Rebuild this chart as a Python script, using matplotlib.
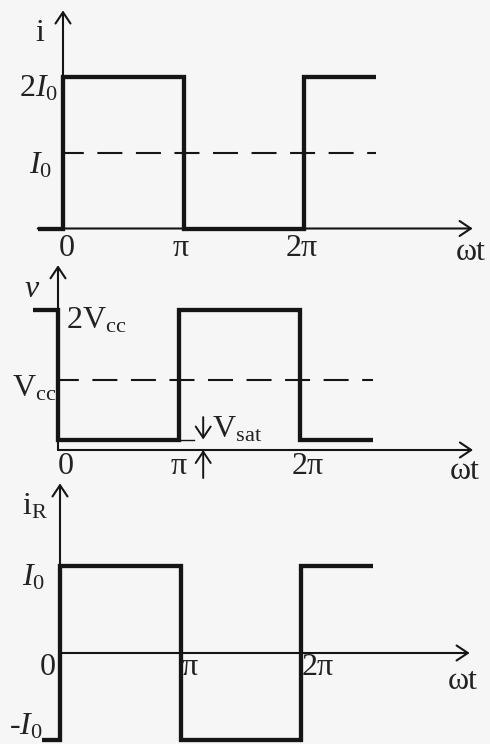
import numpy as np
import matplotlib.pyplot as plt

# ---------- DATA (time in units of pi, levels in units of I0 / Vcc) ----------

t_i = [-0.21, 0, 1, 2, 2.6]
i_levels = [0, 2, 0, 2]
i_mean = 1

V_sat = 0.15
t_v = [-0.21, 0, 1, 2, 2.6]
v_levels = [2, V_sat, 2, V_sat]
v_mean = 1

t_r = [-0.15, 0, 1, 2, 2.6]
r_levels = [-1, 1, -1, 1]

tick_pos = [0, 1, 2]
tick_text = ["0", "π", "2π"]

# ---------- STYLE ----------

W, H = 490, 744
INK = "#151515"
THICK = 3.1
THIN = 1.5
SERIF = "Liberation Serif"

plt.rcParams.update({
    "font.family": SERIF,
    "font.size": 23,
    "mathtext.fontset": "custom",
    "mathtext.rm": SERIF,
    "mathtext.it": SERIF + ":italic",
    "text.color": "#222222",
})

fig = plt.figure(figsize=(W / 100, H / 100), dpi=100)
fig.patch.set_facecolor("#f6f6f6")


def panel(top, bottom, x0, per_pi, y0, per_unit):
    """Axes spanning the full width; x in multiples of pi, y in level units."""
    ax = fig.add_axes([0, 1 - bottom / H, 1, (bottom - top) / H])
    ax.set_xlim(-x0 / per_pi, (W - x0) / per_pi)
    ax.set_ylim((y0 - bottom) / per_unit, (y0 - top) / per_unit)
    ax.axis("off")
    return ax


def step(ax, edges, levels):
    xs = np.repeat(edges, 2)[1:-1]
    ys = np.repeat(levels, 2)
    ax.plot(xs, ys, color=INK, lw=THICK, solid_joinstyle="miter",
            solid_capstyle="butt", clip_on=False, zorder=3)


def arrow(ax, start, end, lw=THIN):
    ax.annotate("", xy=end, xytext=start,
                arrowprops=dict(arrowstyle="->,head_length=0.45,head_width=0.3",
                                color=INK, lw=lw, shrinkA=0, shrinkB=0,
                                mutation_scale=18),
                annotation_clip=False, zorder=2)


def dashed(ax, x_end, level):
    ax.plot([0, x_end], [level, level], color=INK, lw=1.5,
            linestyle=(2, (12, 6.5)), zorder=2)


# ---------- i ----------
ax1 = panel(0, 250, 63, 120.5, 228.5, 76)
arrow(ax1, (t_i[0], 0), (3.40, 0))
arrow(ax1, (0, 0), (0, 2.87))
dashed(ax1, t_i[-1], i_mean)
step(ax1, t_i, i_levels)
ax1.text(-0.19, 2.57, "i", ha="center", va="center")
ax1.text(-0.04, 1.84, r"$2I_0$", ha="right", va="center")
ax1.text(-0.09, 0.83, r"$I_0$", ha="right", va="center")
for x, s, dx in zip(tick_pos, tick_text, [0.03, -0.02, -0.02]):
    ax1.text(x + dx, -0.26, s, ha="center", va="center")
ax1.text(3.38, -0.31, "ωt", ha="center", va="center")

# ---------- v ----------
ax2 = panel(250, 480, 58, 121, 450, 70)
arrow(ax2, (0, 0), (3.43, 0))
arrow(ax2, (0, 0), (0, 2.64))
dashed(ax2, t_v[-1], v_mean)
step(ax2, t_v, v_levels)
ax2.plot([1, 1.12], [V_sat, V_sat], color=INK, lw=1.0, zorder=2)
arrow(ax2, (1.2, 0.47), (1.2, V_sat), lw=1.4)
arrow(ax2, (1.2, -0.4), (1.2, 0), lw=1.4)
ax2.text(-0.21, 2.29, r"$v$", ha="center", va="center")
ax2.text(0.07, 1.84, r"$\mathrm{2V_{cc}}$", ha="left", va="center")
ax2.text(-0.38, 0.87, r"$\mathrm{V_{cc}}$", ha="left", va="center")
ax2.text(1.27, 0.29, r"$\mathrm{V_{sat}}$", ha="left", va="center")
for x, s, dx in zip(tick_pos, tick_text, [0.06, 0.0, 0.06]):
    ax2.text(x + dx, -0.24, s, ha="center", va="center")
ax2.text(3.36, -0.31, "ωt", ha="center", va="center")

# ---------- i_R ----------
ax3 = panel(480, 744, 60, 120.5, 653, 87)
arrow(ax3, (0, 0), (3.40, 0))
arrow(ax3, (0, r_levels[0]), (0, 1.95))
step(ax3, t_r, r_levels)
ax3.text(-0.21, 1.68, r"i$_\mathrm{R}$", ha="center", va="center")
ax3.text(-0.12, 0.86, r"$I_0$", ha="right", va="center")
ax3.text(-0.14, -0.85, r"-$I_0$", ha="right", va="center")
for x, s, dx in zip(tick_pos, tick_text, [-0.10, 0.08, 0.14]):
    ax3.text(x + dx, -0.17, s, ha="center", va="center")
ax3.text(3.34, -0.33, "ωt", ha="center", va="center")

fig.savefig("out.png", dpi=100, facecolor=fig.get_facecolor())
